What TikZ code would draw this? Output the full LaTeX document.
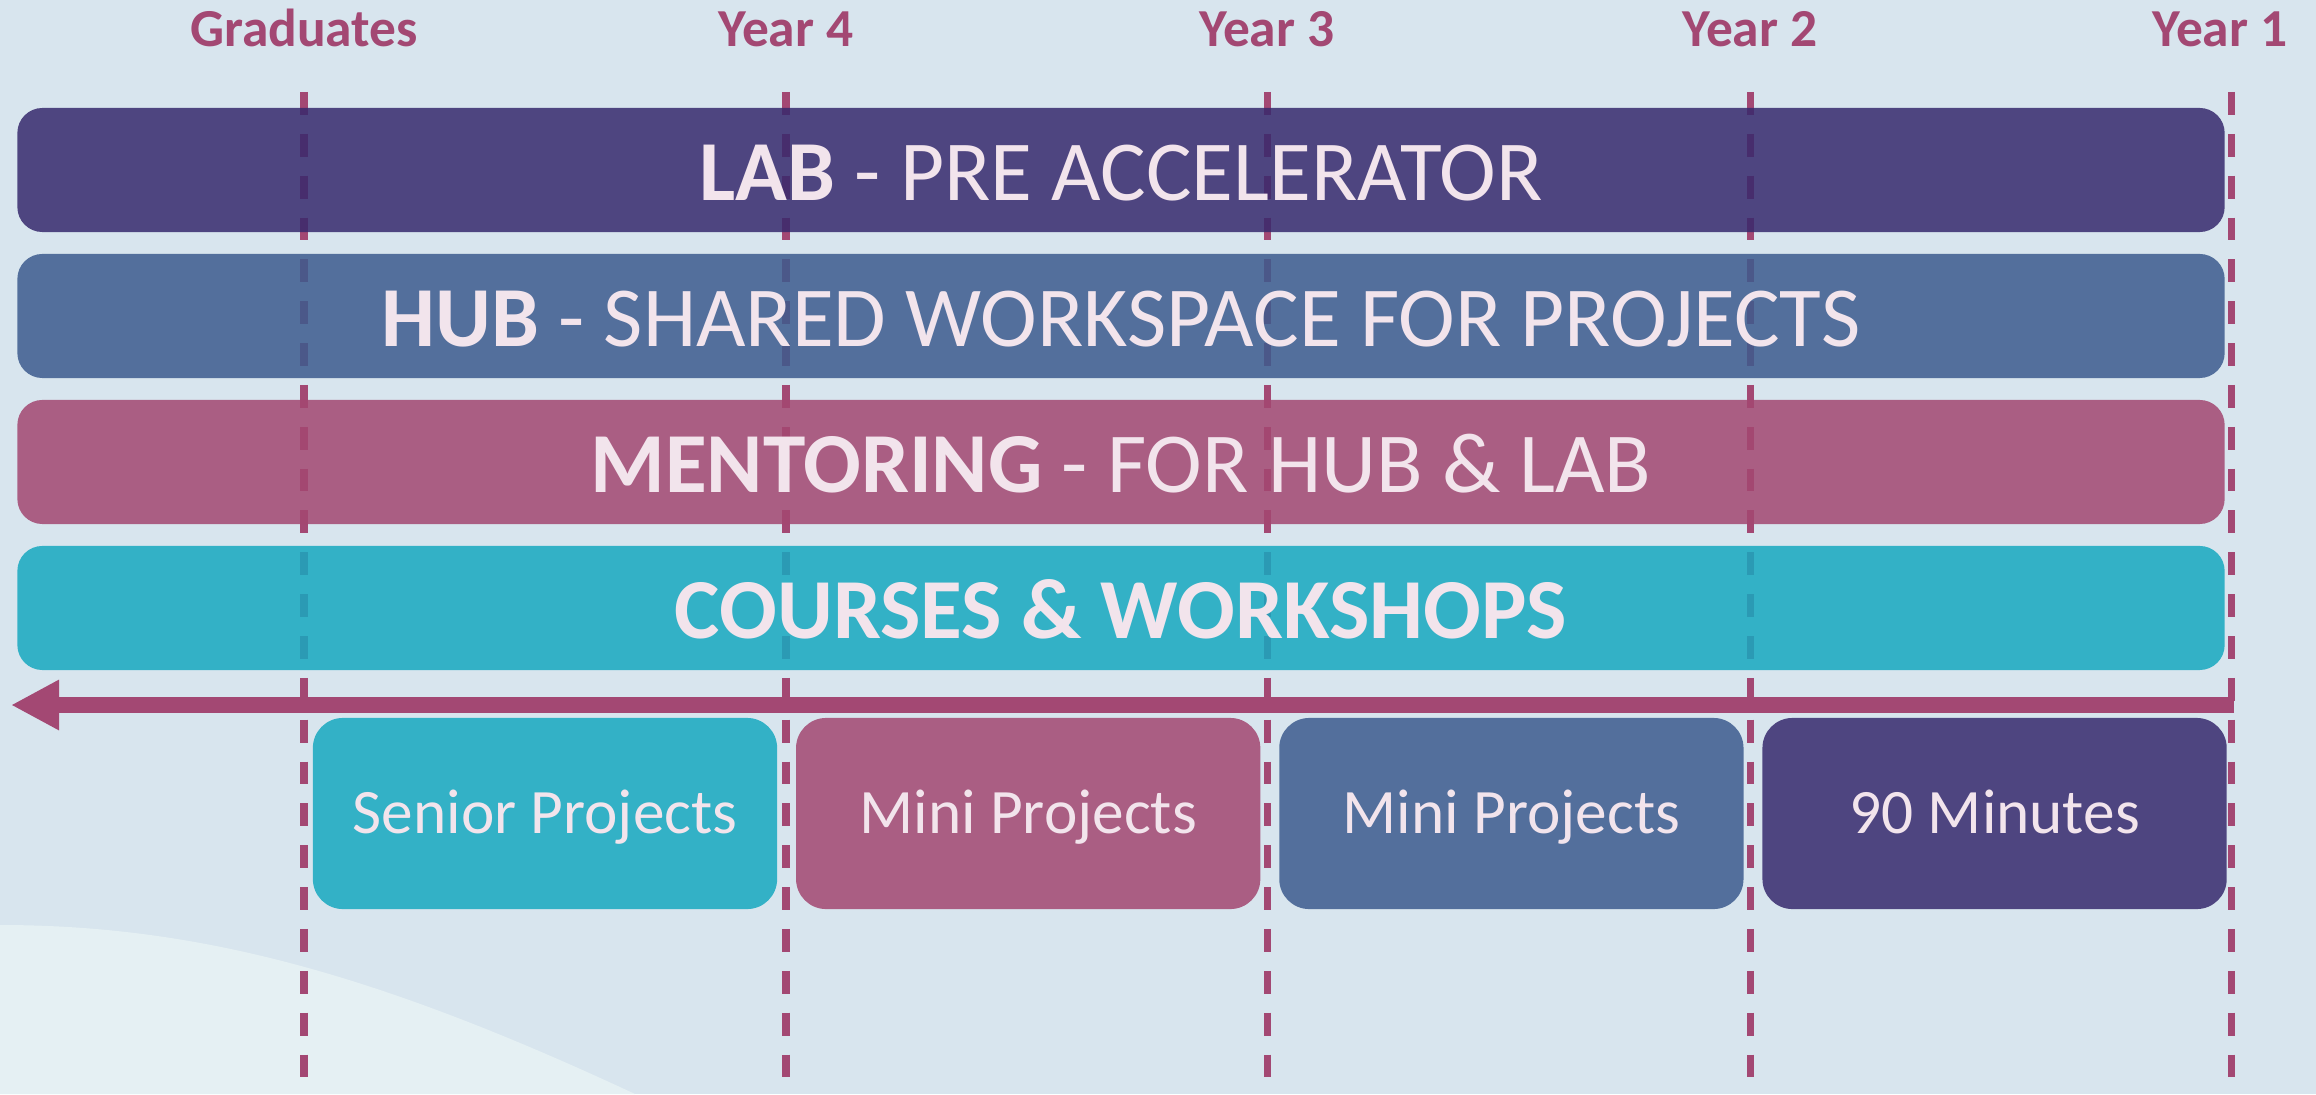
\documentclass[tikz,border=0pt]{standalone}
\usepackage{fontspec}
\setmainfont{Carlito}
\usetikzlibrary{positioning, arrows.meta}

\definecolor{bgblue}{RGB}{216,229,238}
\definecolor{wave}{RGB}{229,240,243}
\definecolor{labcol}{RGB}{55,41,109}
\definecolor{hubcol}{RGB}{60,91,142}
\definecolor{mentorcol}{RGB}{163,71,113}
\definecolor{coursecol}{RGB}{23,169,192}
\definecolor{plum}{RGB}{163,72,115}
\definecolor{paletext}{RGB}{242,228,236}

\begin{document}
\begin{tikzpicture}[
  x=0.01cm, y=-0.01cm,
  node distance=0.205cm and 0.175cm,
  bar/.style={rounded corners=0.25cm, minimum width=22.06cm, minimum height=1.24cm, inner sep=0pt, text=paletext, fill opacity=0.85, text opacity=1, text height=17.5pt, text depth=0pt, font=\fontsize{24.3}{29}\selectfont},
  labbar/.style={bar, fill=labcol},
  hubbar/.style={bar, fill=hubcol},
  mentorbar/.style={bar, fill=mentorcol},
  coursebar/.style={bar, fill=coursecol},
  phase/.style={rounded corners=0.3cm, minimum width=4.64cm, minimum height=1.91cm, inner sep=0pt, text=paletext, fill opacity=0.85, text opacity=1, text height=11.6pt, text depth=0pt, font=\fontsize{18}{22}\selectfont},
  yearlabel/.style={anchor=base, text=plum, font=\bfseries\fontsize{15.2}{18}\selectfont},
  guide/.style={plum, line width=2pt, dash pattern=on 6.5pt off 5.4pt},
  timeline/.style={plum, line width=4.55pt, -{Triangle[length=0.48cm, width=0.47cm]}}
]
\useasboundingbox (0,0) rectangle (2316,1094);

% background and wave
\fill[bgblue] (0,0) rectangle (2316,1094);
\fill[wave] (0,925) .. controls (200,925) and (380,975) .. (635,1094) -- (0,1094) -- cycle;

% year labels and guide lines
\foreach \x/\lx/\lab/\nm in {304/304/Graduates/grad, 786/786/Year 4/yfour, 1267/1267/Year 3/ythree, 1750/1750/Year 2/ytwo, 2231/2220/Year 1/yone} {
  \node[yearlabel] (\nm) at (\lx,47) {\lab};
  \coordinate (\nm top) at (\x,92);
  \coordinate (\nm bot) at (\x,1094);
  \draw[guide] (\nm top) -- (\nm bot);
}

% programme bars
\node[labbar] (lab) at (1121,170) {\textbf{LAB} - PRE ACCELERATOR};
\node[hubbar, below=of lab] (hub) {\textbf{HUB} - SHARED WORKSPACE FOR PROJECTS};
\node[mentorbar, below=of hub] (mentor) {\textbf{MENTORING} - FOR HUB \& LAB};
\node[coursebar, below=of mentor] (course) {\textbf{COURSES \& WORKSHOPS}};

% time arrow
\coordinate (tstart) at (2234,705);
\coordinate (tend) at (11,705);
\draw[timeline] (tstart) -- (tend);

% phases
\node[phase, fill=coursecol] (senior) at (545,813.5) {Senior Projects};
\node[phase, fill=mentorcol, right=of senior] (minithree) {Mini Projects};
\node[phase, fill=hubcol, right=of minithree] (minitwo) {Mini Projects};
\node[phase, fill=labcol, right=of minitwo] (ninety) {90 Minutes};

\end{tikzpicture}
\end{document}
